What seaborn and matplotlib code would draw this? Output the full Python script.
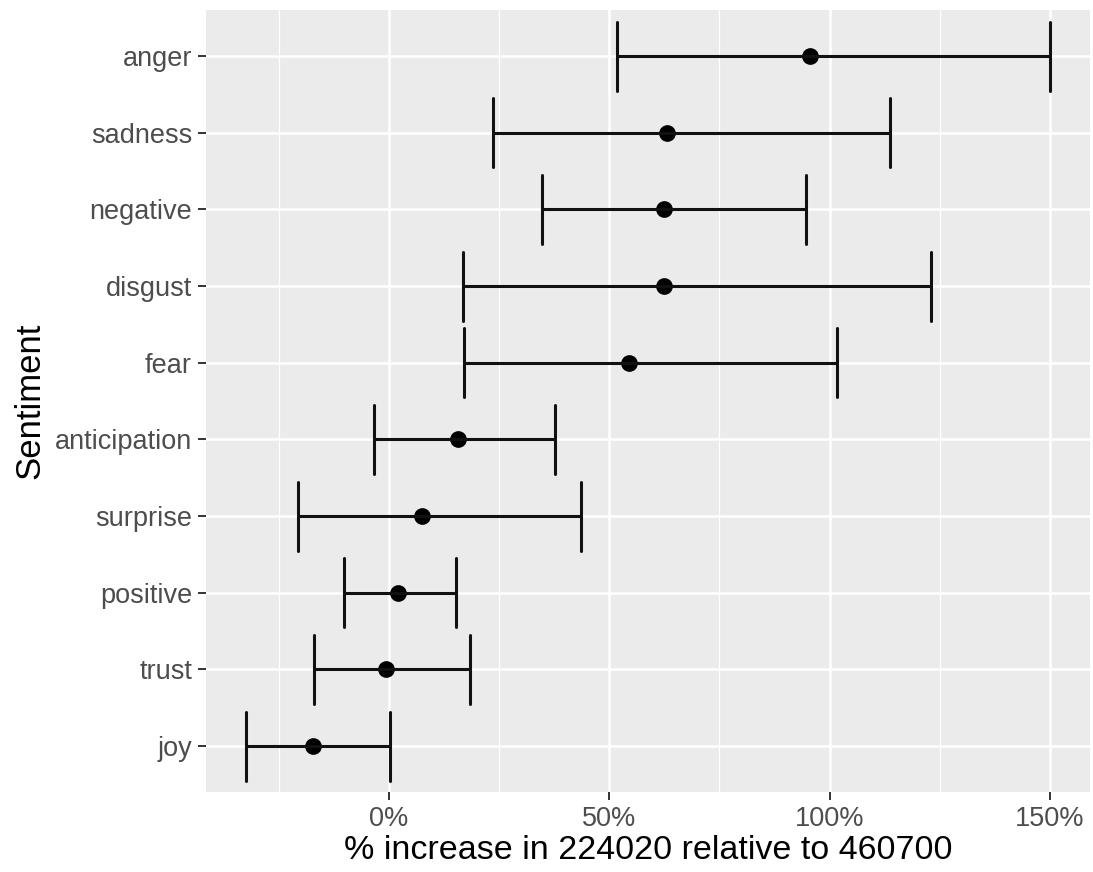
import numpy as np
import pandas as pd
import matplotlib
matplotlib.use('Agg')
import matplotlib.pyplot as plt
import seaborn as sns
from matplotlib.ticker import PercentFormatter, FixedLocator

# values (percent)
sentiments = ['anger', 'sadness', 'negative', 'disgust', 'fear',
              'anticipation', 'surprise', 'positive', 'trust', 'joy']
estimate = [95.5, 63.1, 62.4, 62.4, 54.4, 15.6, 7.5, 2.0, -0.7, -17.3]
lower = [51.7, 23.5, 34.8, 16.9, 17.1, -3.5, -20.7, -10.1, -17.1, -32.4]
upper = [150.0, 113.7, 94.7, 123.0, 101.7, 37.6, 43.5, 15.3, 18.4, 0.2]

# long table: low / estimate / high per sentiment -> median + full range
rows = []
for s, lo, e, hi in zip(sentiments, lower, estimate, upper):
    for v in (lo, e, hi):
        rows.append({'Sentiment': s, 'pct': v})
df = pd.DataFrame(rows)

sns.set_theme(style='darkgrid', rc={
    'axes.facecolor': '#EBEBEB',
    'grid.color': 'white',
    'axes.edgecolor': 'none',
})
plt.rcParams['font.family'] = ['Liberation Sans', 'DejaVu Sans']

fig = plt.figure(figsize=(10.93, 8.72), dpi=100)
fig.subplots_adjust(left=0.1885, right=0.9973, top=0.9885, bottom=0.0917)
ax = fig.add_subplot(111)

sns.pointplot(data=df, x='pct', y='Sentiment', order=sentiments,
              estimator='median', errorbar=('pi', 100), orient='h',
              linestyle='none', color='black', markersize=10,
              capsize=0.9, err_kws={'linewidth': 2.2, 'color': '#111111'},
              ax=ax)

span = max(upper) - min(lower)
ax.set_xlim(min(lower) - 0.05 * span, max(upper) + 0.05 * span)
ax.set_ylim(len(sentiments) - 1 + 0.6, -0.6)

ax.xaxis.set_major_locator(FixedLocator([0, 50, 100, 150]))
ax.xaxis.set_minor_locator(FixedLocator([-25, 25, 75, 125]))
ax.xaxis.set_major_formatter(PercentFormatter(xmax=100, decimals=0))
ax.grid(which='major', color='white', linewidth=1.8)
ax.grid(which='minor', axis='x', color='white', linewidth=0.9)
ax.set_axisbelow(True)

ax.tick_params(axis='both', which='major', length=5.6, width=1.4,
               color='#333333', labelcolor='#4D4D4D', labelsize=19.5, pad=4.5,
               bottom=True, left=True)
ax.tick_params(axis='x', which='minor', length=0)

ax.set_xlabel('% increase in 224020 relative to 460700', fontsize=24.5,
              color='black', labelpad=2)
ax.set_ylabel('Sentiment', fontsize=25, color='black', labelpad=6)

plt.savefig('out.png', dpi=100)
